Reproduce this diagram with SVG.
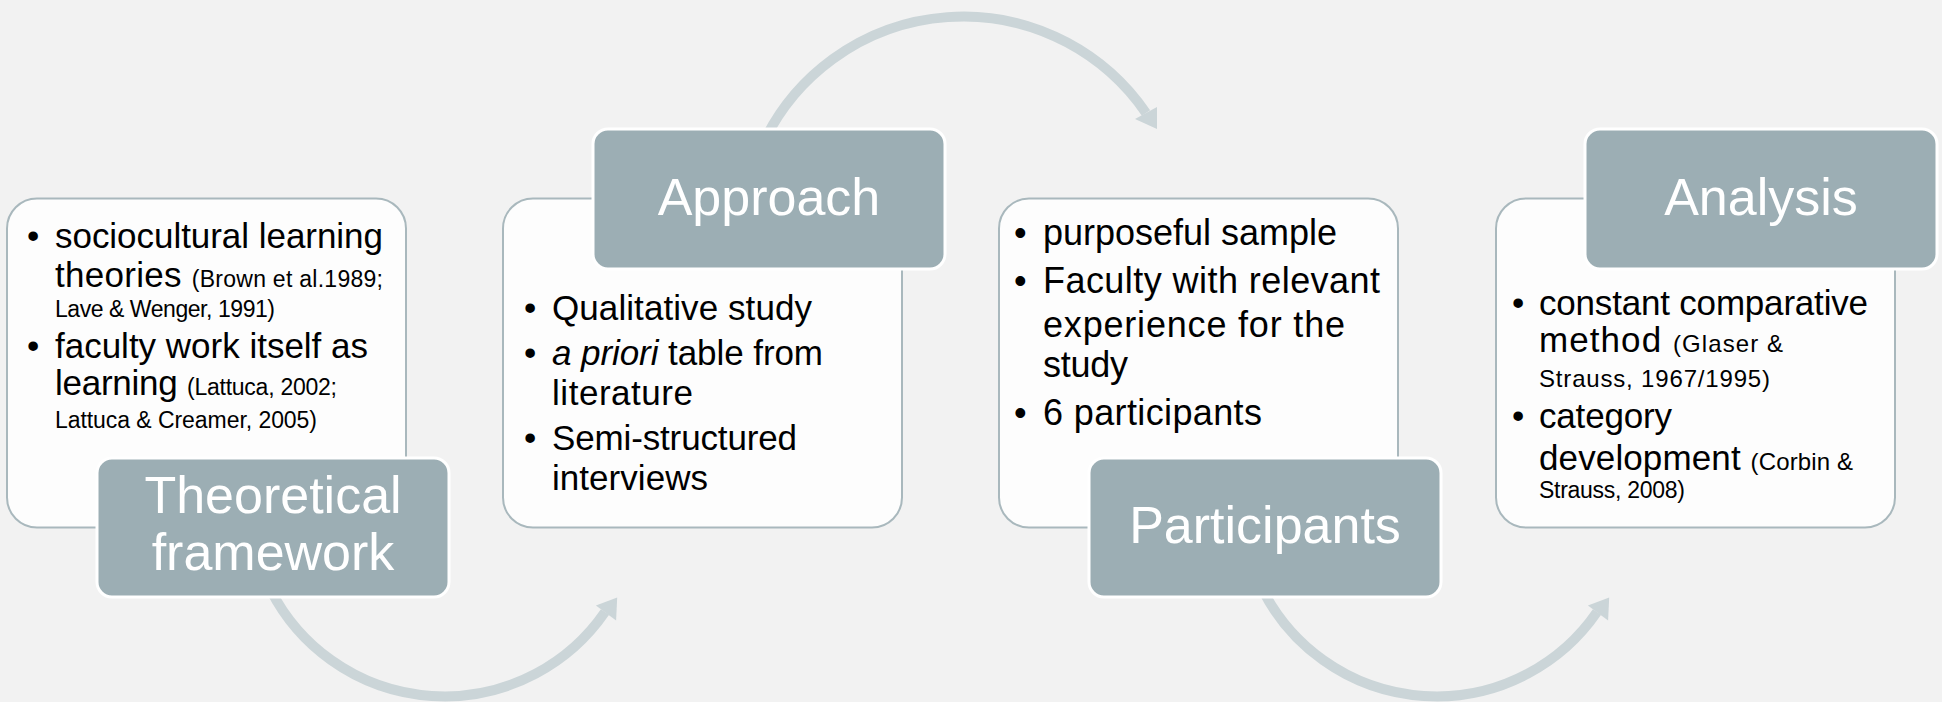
<svg xmlns="http://www.w3.org/2000/svg" width="1942" height="702" viewBox="0 0 1942 702">
  <style>
    .card { fill: #fdfdfd; stroke: #a9b8bd; stroke-width: 2; }
    .tab { fill: #9caeb4; stroke: #ffffff; stroke-width: 3; }
    .title { font-family: "Liberation Sans", Arial, sans-serif; font-size: 52px; fill: #ffffff; text-anchor: middle; }
    .body { font-family: "Liberation Sans", Arial, sans-serif; font-size: 35px; fill: #000000; }
    .b36 { font-size: 36px; }
    .cite { font-size: 23px; }
    .cite24 { font-size: 24px; }
    .arc { fill: none; stroke: #cbd5d8; stroke-width: 10; stroke-linecap: butt; }
    .head { fill: #cbd5d8; }
  </style>

  <rect width="1942" height="702" fill="#f2f2f2"/>

  <!-- curved flow arrows between the steps -->
  <g id="connectors">
    <path class="arc" d="M 270.7 590 A 195 195 0 0 0 605 612"/>
    <polygon class="head" points="617.2,597.6 595.9,605.6 616.1,620.4"/>
    <path class="arc" d="M 764.6 140 A 221.5 221.5 0 0 1 1146 113"/>
    <polygon class="head" points="1157,129 1135,119 1157,107"/>
    <path class="arc" d="M 1262.7 590 A 195 195 0 0 0 1597 612"/>
    <polygon class="head" points="1609.2,597.6 1587.9,605.6 1608.1,620.4"/>
  </g>

  <!-- step 1 -->
  <g id="theoretical-framework">
    <rect class="card" x="7" y="198.5" width="399" height="329" rx="30"/>
    <text class="body" x="27" y="248">•</text>
    <text class="body" x="55" y="248" textLength="328">sociocultural learning</text>
    <text class="body" x="55" y="287" textLength="328">theories <tspan class="cite">(Brown et al.1989;</tspan></text>
    <text class="body cite" x="55" y="317" textLength="220">Lave &amp; Wenger, 1991)</text>
    <text class="body" x="27" y="358">•</text>
    <text class="body" x="55" y="358" textLength="313">faculty work itself as</text>
    <text class="body" x="55" y="395" textLength="282">learning <tspan class="cite">(Lattuca, 2002;</tspan></text>
    <text class="body cite" x="55" y="428" textLength="262">Lattuca &amp; Creamer, 2005)</text>
    <rect class="tab" x="97" y="458" width="352" height="139" rx="15"/>
    <text class="title" x="273" y="513">Theoretical</text>
    <text class="title" x="273" y="570">framework</text>
  </g>

  <!-- step 2 -->
  <g id="approach">
    <rect class="card" x="503" y="198.5" width="399" height="329" rx="30"/>
    <rect class="tab" x="593" y="129" width="352" height="140" rx="15"/>
    <text class="title" x="769" y="215">Approach</text>
    <text class="body" x="524" y="320">•</text>
    <text class="body" x="552" y="320" textLength="260">Qualitative study</text>
    <text class="body" x="524" y="365">•</text>
    <text class="body" x="552" y="365" textLength="271"><tspan font-style="italic">a priori</tspan> table from</text>
    <text class="body" x="552" y="405" textLength="141">literature</text>
    <text class="body" x="524" y="450">•</text>
    <text class="body" x="552" y="450" textLength="245">Semi-structured</text>
    <text class="body" x="552" y="490" textLength="156">interviews</text>
  </g>

  <!-- step 3 -->
  <g id="participants">
    <rect class="card" x="999" y="198.5" width="399" height="329" rx="30"/>
    <text class="body b36" x="1014" y="245">•</text>
    <text class="body b36" x="1043" y="245" textLength="294">purposeful sample</text>
    <text class="body b36" x="1014" y="293">•</text>
    <text class="body b36" x="1043" y="293" textLength="337">Faculty with relevant</text>
    <text class="body b36" x="1043" y="337" textLength="302">experience for the</text>
    <text class="body b36" x="1043" y="377" textLength="85">study</text>
    <text class="body b36" x="1014" y="425">•</text>
    <text class="body b36" x="1043" y="425" textLength="219">6 participants</text>
    <rect class="tab" x="1089" y="458" width="352" height="139" rx="15"/>
    <text class="title" x="1265" y="543">Participants</text>
  </g>

  <!-- step 4 -->
  <g id="analysis">
    <rect class="card" x="1496" y="198.5" width="399" height="329" rx="30"/>
    <rect class="tab" x="1585" y="129" width="352" height="140" rx="15"/>
    <text class="title" x="1761" y="215">Analysis</text>
    <text class="body" x="1512" y="315">•</text>
    <text class="body" x="1539" y="315" textLength="329">constant comparative</text>
    <text class="body" x="1539" y="352" textLength="244">method <tspan class="cite24">(Glaser &amp;</tspan></text>
    <text class="body cite24" x="1539" y="387" textLength="231">Strauss, 1967/1995)</text>
    <text class="body" x="1512" y="428">•</text>
    <text class="body" x="1539" y="428" textLength="133">category</text>
    <text class="body" x="1539" y="470" textLength="314">development <tspan class="cite24">(Corbin &amp;</tspan></text>
    <text class="body cite" x="1539" y="498" textLength="146">Strauss, 2008)</text>
  </g>
</svg>
